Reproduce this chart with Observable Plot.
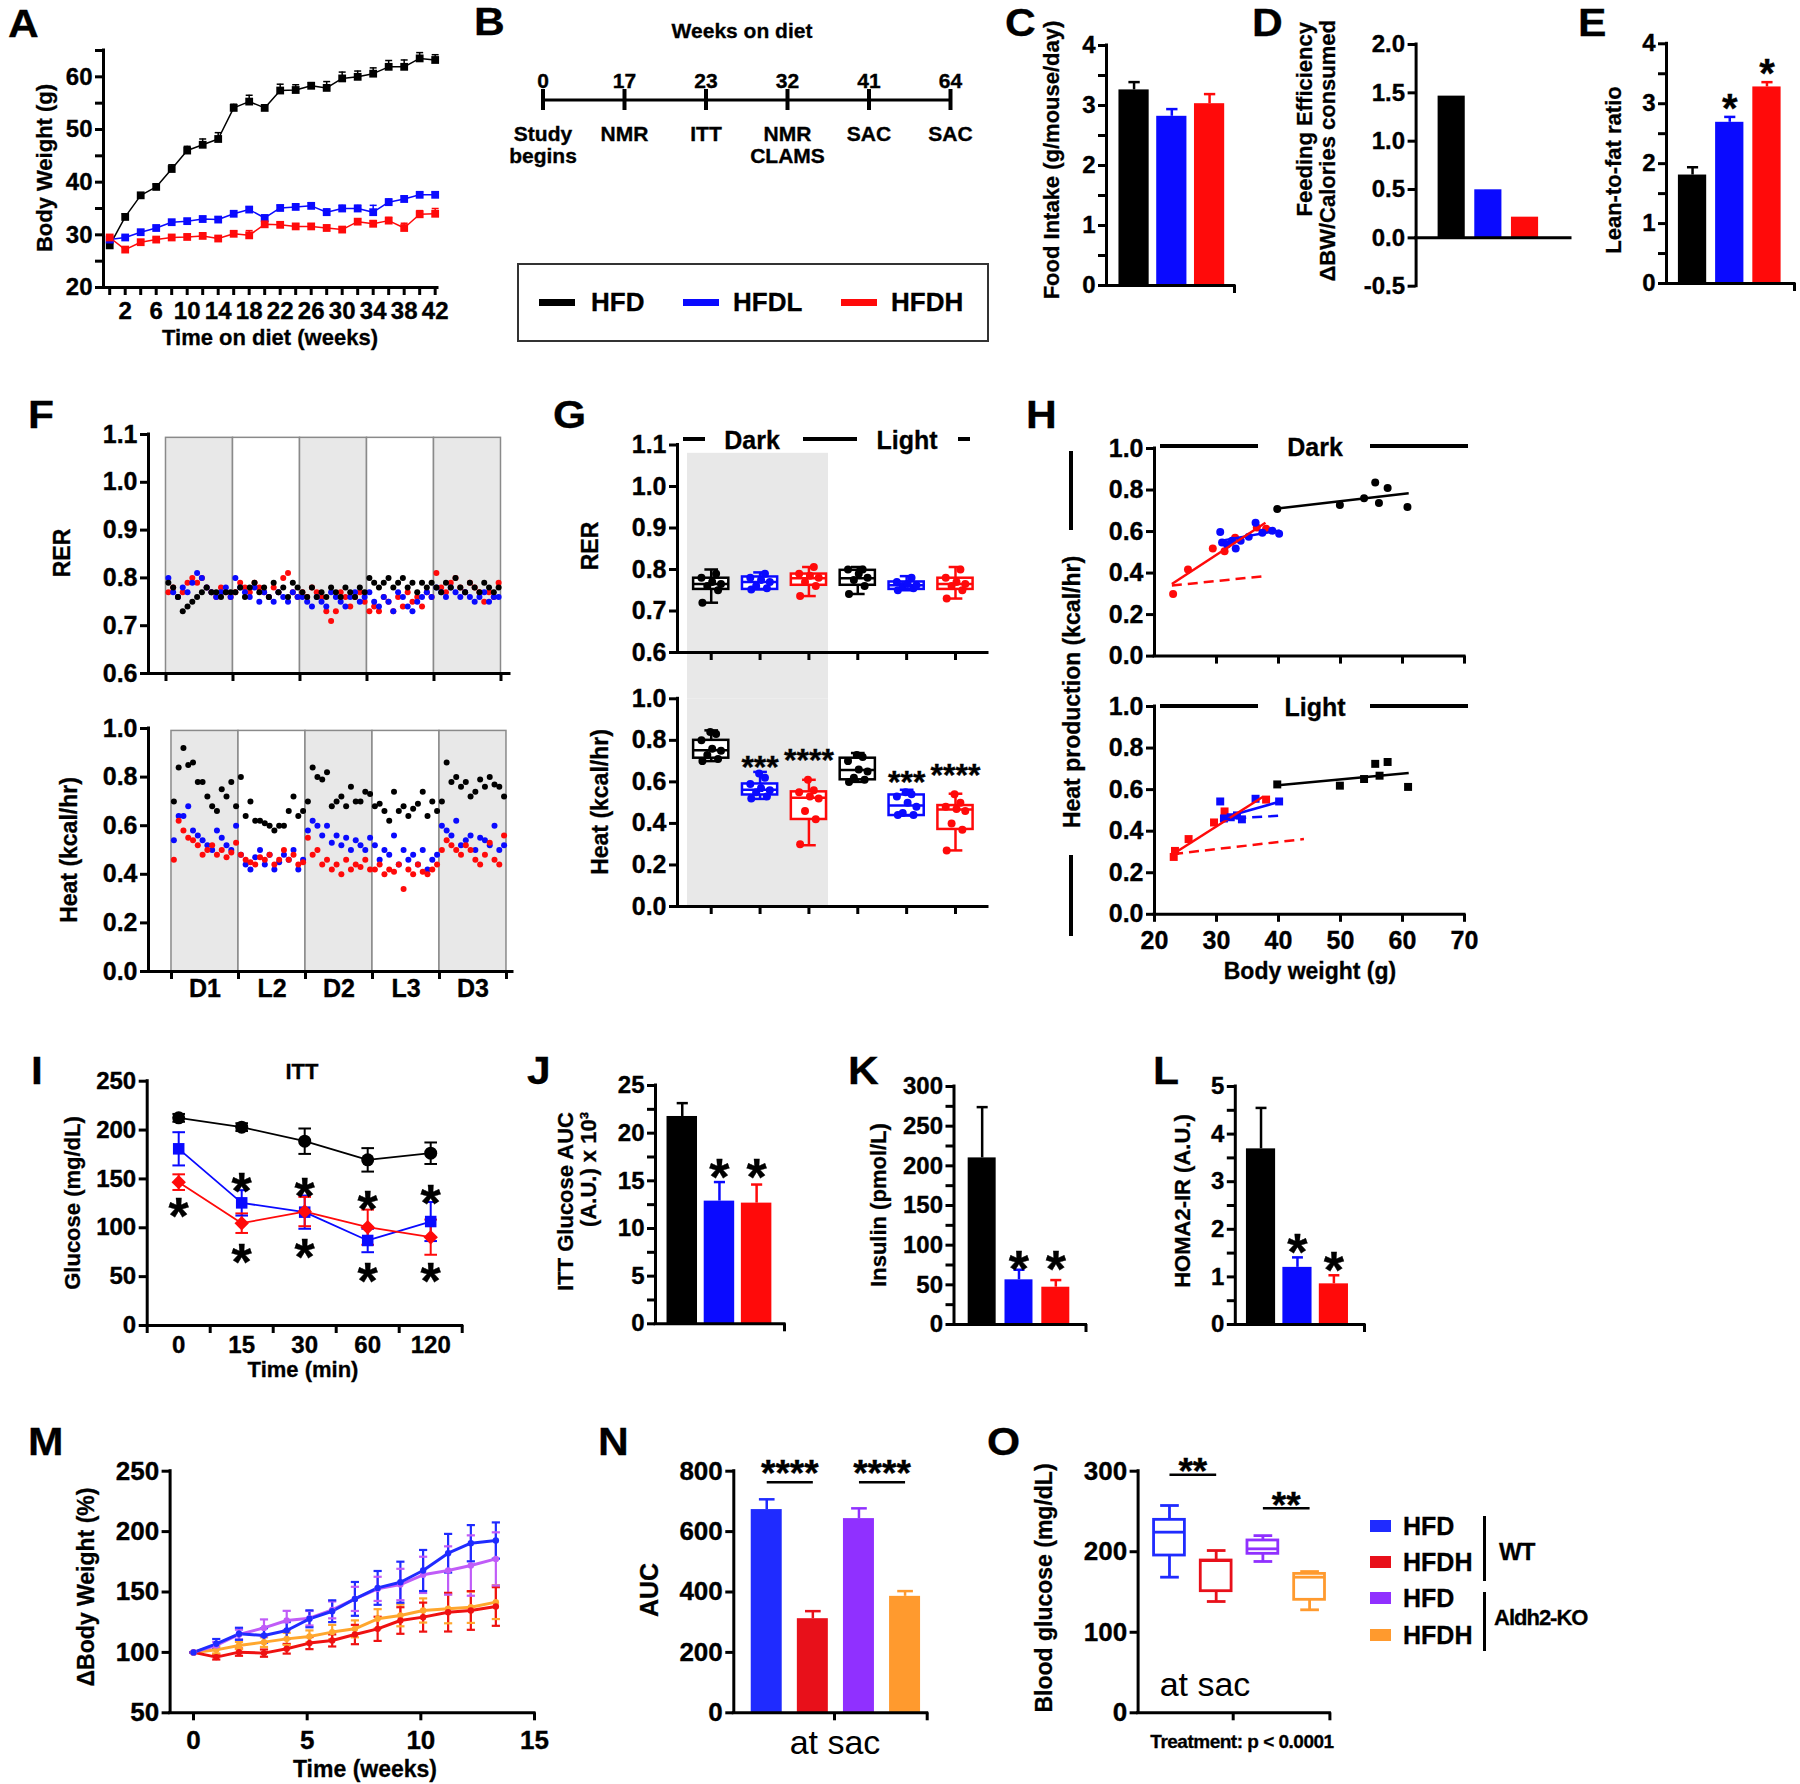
<!DOCTYPE html>
<html><head><meta charset="utf-8">
<script src="https://cdn.jsdelivr.net/npm/d3@7"></script>
<script src="https://cdn.jsdelivr.net/npm/@observablehq/plot@0.6"></script>
<style>
html,body{margin:0;padding:0;background:#fff;}
#root{position:relative;width:1800px;height:1784px;overflow:hidden;font-family:'Liberation Sans',Arial,Helvetica,sans-serif;background:#fff;}
.t{position:absolute;white-space:nowrap;line-height:1;color:#000;font-weight:bold;-webkit-text-stroke:0.3px #000;}
.t.n{-webkit-text-stroke:0;}
svg text{stroke:currentColor;stroke-width:0.35px;}
</style></head><body><div id="root"></div><script>
// ================= DATA =================
// A: body weight
const weeksA = [0,2,4,6,8,10,12,14,16,18,20,22,24,26,28,30,32,34,36,38,40,42];
const bwHFD = [28.0,33.4,37.5,39.1,42.5,46.0,47.1,48.2,54.1,55.3,54.1,57.4,57.5,58.3,57.9,59.7,60.0,60.6,61.9,61.9,63.5,63.2];
const bwHFDErr = [0.3,0.6,0.5,0.5,0.8,0.8,1.1,1.2,0.7,1.2,0.6,1.2,1.0,0.6,1.2,1.2,1.1,1.1,1.2,1.3,1.1,1.0];
const bwHFDL = [29.1,29.5,30.5,31.3,32.4,32.6,33.0,32.9,34.0,34.8,33.2,35.1,35.3,35.5,34.3,35.0,35.0,34.3,36.2,36.8,37.6,37.6];
const bwHFDLErr = [0.3,0.3,0.4,0.4,0.4,0.4,0.5,0.5,0.5,0.5,0.5,0.5,0.5,0.6,0.6,0.6,0.6,1.3,0.6,0.6,0.5,0.5];
const bwHFDH = [29.5,27.2,28.6,29.1,29.5,29.6,29.8,29.3,30.2,29.9,32.0,31.9,31.6,31.6,31.3,31.0,32.5,32.1,32.7,31.3,33.9,34.0];
const bwHFDHErr = [0.3,0.4,0.4,0.4,0.4,0.4,0.4,0.4,0.5,0.9,0.5,0.5,0.5,0.5,0.5,0.5,0.5,0.6,0.6,0.9,0.7,1.0];
// B: timeline
const timelineWeeks = ["0","17","23","32","41","64"];
const timelineEvents = ["Study\nbegins","NMR","ITT","NMR\nCLAMS","SAC","SAC"];
// C, D, E
const dietGroups = ["HFD","HFDL","HFDH"];
const foodIntake = [3.26,2.82,3.03];
const foodIntakeErr = [0.13,0.12,0.16];
const feedingEff = [1.466,0.497,0.214];
const leanFat = [1.81,2.69,3.28];
const leanFatErr = [0.13,0.09,0.08];
const leanFatStarX = [1,2];
const leanFatStarY = [3.08,3.67];
// F: CLAMS time course (14 readings per phase)
const clamsPhases = ["D1","L2","D2","L3","D3"];
const rerHFD = [0.79,0.78,0.76,0.73,0.74,0.75,0.76,0.77,0.78,0.77,0.77,0.76,0.77,0.77,
0.77,0.78,0.76,0.78,0.79,0.77,0.78,0.76,0.79,0.77,0.78,0.76,0.79,0.78,
0.77,0.76,0.78,0.76,0.77,0.76,0.78,0.77,0.76,0.78,0.77,0.76,0.78,0.77,
0.80,0.79,0.78,0.79,0.80,0.78,0.79,0.80,0.78,0.79,0.77,0.79,0.78,0.79,
0.78,0.77,0.79,0.78,0.80,0.78,0.77,0.79,0.78,0.77,0.79,0.78,0.77,0.78];
const rerHFDL = [0.80,0.77,0.76,0.78,0.77,0.79,0.81,0.80,0.78,0.77,0.76,0.77,0.78,0.76,
0.80,0.78,0.77,0.76,0.78,0.75,0.77,0.76,0.75,0.77,0.76,0.75,0.77,0.76,
0.76,0.75,0.74,0.76,0.75,0.74,0.77,0.76,0.75,0.74,0.76,0.77,0.75,0.76,
0.77,0.75,0.74,0.76,0.75,0.73,0.77,0.76,0.74,0.73,0.75,0.76,0.77,0.76,
0.78,0.77,0.76,0.78,0.77,0.76,0.77,0.76,0.75,0.76,0.77,0.75,0.76,0.76];
const rerHFDH = [0.77,0.78,0.76,0.77,0.79,0.80,0.79,0.80,0.78,0.77,0.76,0.78,0.77,0.76,
0.77,0.79,0.78,0.77,0.79,0.78,0.77,0.76,0.78,0.77,0.80,0.81,0.77,0.76,
0.77,0.76,0.78,0.77,0.76,0.73,0.71,0.73,0.77,0.76,0.74,0.76,0.77,0.75,
0.73,0.74,0.73,0.76,0.75,0.73,0.76,0.74,0.77,0.75,0.76,0.74,0.77,0.76,
0.81,0.78,0.77,0.79,0.80,0.78,0.77,0.79,0.78,0.77,0.75,0.77,0.76,0.79];
const heatHFD = [0.70,0.84,0.92,0.85,0.86,0.78,0.78,0.72,0.68,0.66,0.75,0.72,0.78,0.68,
0.80,0.64,0.70,0.62,0.62,0.61,0.60,0.58,0.60,0.60,0.66,0.72,0.64,0.66,
0.70,0.84,0.80,0.79,0.82,0.68,0.70,0.72,0.68,0.76,0.70,0.70,0.74,0.73,
0.68,0.69,0.66,0.62,0.74,0.66,0.68,0.64,0.67,0.69,0.74,0.64,0.70,0.66,
0.70,0.86,0.78,0.80,0.76,0.78,0.72,0.74,0.79,0.76,0.80,0.77,0.76,0.72];
const heatHFDL = [0.54,0.64,0.64,0.68,0.58,0.56,0.54,0.52,0.50,0.58,0.55,0.52,0.50,0.60,
0.48,0.44,0.42,0.47,0.50,0.44,0.48,0.42,0.45,0.48,0.46,0.50,0.42,0.46,
0.58,0.62,0.60,0.56,0.60,0.53,0.56,0.52,0.55,0.50,0.54,0.52,0.50,0.55,
0.52,0.46,0.50,0.48,0.56,0.44,0.50,0.46,0.48,0.44,0.50,0.42,0.46,0.48,
0.60,0.58,0.56,0.62,0.52,0.54,0.56,0.50,0.55,0.54,0.52,0.60,0.50,0.52];
const heatHFDH = [0.46,0.62,0.58,0.55,0.54,0.52,0.48,0.50,0.52,0.48,0.50,0.47,0.49,0.53,
0.48,0.46,0.45,0.44,0.47,0.46,0.48,0.44,0.46,0.50,0.46,0.48,0.44,0.45,
0.55,0.48,0.50,0.44,0.46,0.42,0.44,0.40,0.46,0.42,0.44,0.43,0.46,0.42,
0.42,0.44,0.40,0.42,0.41,0.44,0.34,0.42,0.40,0.44,0.41,0.40,0.42,0.44,
0.50,0.54,0.52,0.50,0.48,0.52,0.50,0.46,0.44,0.48,0.53,0.46,0.44,0.56];
// G: box plots (Dark HFD, HFDL, HFDH, Light HFD, HFDL, HFDH): [min,q1,median,q3,max]
const gGroups = ["HFD","HFDL","HFDH","HFD","HFDL","HFDH"];
const gRerStats = [[0.72,0.752,0.765,0.779,0.80],[0.752,0.752,0.77,0.782,0.793],[0.736,0.762,0.779,0.789,0.806],
  [0.741,0.762,0.779,0.798,0.806],[0.75,0.752,0.762,0.77,0.784],[0.73,0.752,0.765,0.779,0.806]];
const gHeatStats = [[0.70,0.714,0.752,0.80,0.848],[0.518,0.537,0.562,0.59,0.648],[0.295,0.419,0.524,0.552,0.61],
  [0.60,0.61,0.657,0.714,0.739],[0.438,0.438,0.486,0.537,0.562],[0.27,0.371,0.467,0.486,0.543]];
const gRerPoints = [[0.72,0.75,0.76,0.765,0.77,0.78,0.79],[0.752,0.755,0.76,0.77,0.775,0.78,0.79],
  [0.736,0.76,0.77,0.78,0.785,0.79,0.806],[0.741,0.76,0.775,0.78,0.79,0.80,0.80],
  [0.75,0.755,0.76,0.762,0.765,0.77,0.78],[0.73,0.75,0.76,0.765,0.77,0.78,0.80]];
const gHeatPoints = [[0.70,0.71,0.73,0.75,0.76,0.80,0.83,0.84],[0.52,0.53,0.55,0.56,0.57,0.59,0.62,0.64],
  [0.30,0.42,0.46,0.52,0.53,0.55,0.56,0.61],[0.60,0.61,0.62,0.65,0.66,0.70,0.72,0.73],
  [0.44,0.44,0.45,0.48,0.50,0.53,0.54,0.55],[0.27,0.37,0.40,0.46,0.47,0.48,0.50,0.54]];
const gStarX = [1,2,4,5];
const gStarY = [0.705,0.743,0.633,0.671];
const gStarText = ["***","****","***","****"];
// H: heat vs body weight
const hDarkHFDx = [39.8,49.9,53.8,55.6,56.2,57.6,60.8];
const hDarkHFDy = [0.709,0.728,0.76,0.836,0.737,0.81,0.718];
const hDarkHFDLx = [30.6,30.9,31.7,32.5,33.1,33.9,35.2,36.3,37.4,39.0,40.1];
const hDarkHFDLy = [0.598,0.547,0.537,0.556,0.518,0.556,0.575,0.642,0.594,0.604,0.589];
const hDarkHFDHx = [23.0,25.4,29.4,31.3,33.0,36.5,38.0];
const hDarkHFDHy = [0.299,0.417,0.518,0.505,0.57,0.62,0.613];
const hLightHFDx = [39.8,49.9,53.8,55.6,56.3,57.6,60.9];
const hLightHFDy = [0.625,0.619,0.651,0.724,0.667,0.733,0.613];
const hLightHFDLx = [30.6,31.2,32.3,33.3,34.1,36.3,40.1];
const hLightHFDLy = [0.543,0.461,0.467,0.476,0.457,0.556,0.543];
const hLightHFDHx = [23.1,23.3,25.5,29.6,31.3,38.0];
const hLightHFDHy = [0.276,0.305,0.362,0.442,0.495,0.552];
// regression fits [group, x start, y start, x end, y end]
const hDarkFits = [["HFD",39.5,0.71,61,0.785],["HFDL",30.6,0.555,40.2,0.605],["HFDH",22.8,0.347,37.9,0.642]];
const hDarkFitsDashed = [["HFDH",22.8,0.34,37.6,0.385]];
const hLightFits = [["HFD",39.5,0.62,61,0.68],["HFDL",30.6,0.461,40.3,0.543],["HFDH",23,0.29,37.5,0.566]];
const hLightFitsDashed = [["HFDL",30.6,0.457,40.9,0.476],["HFDH",23,0.29,44.1,0.362]];
// I: ITT
const ittTimes = ["0","15","30","60","120"];
const ittHFD = [212.5,203,188.6,169.5,176.3];
const ittHFDErr = [4,4,13,12,11];
const ittHFDL = [180.8,125.5,116,87,106.4];
const ittHFDLErr = [17,13,17,12,20];
const ittHFDH = [146.7,104.7,116.6,100.6,90.4];
const ittHFDHErr = [8,10,15,18,18];
const ittStarAboveX = [1,2,3,4];
const ittStarAboveY = [150,145,131,138];
const ittStarBelowX = [0,1,2,3,4];
const ittStarBelowY = [124.5,76.7,81.9,58,58];
// J, K, L
const ittAUC = [21.75,12.87,12.66];
const ittAUCErr = [1.4,2.0,1.95];
const ittAUCStarY = [16.6,16.6];
const insulin = [210,56.3,47];
const insulinErr = [64,12.7,9];
const insulinStarY = [84.8,84.8];
const homa = [3.69,1.2,0.854];
const homaErr = [0.86,0.21,0.18];
const homaStarY = [1.765,1.387];
// M, N, O
const koGroups = ["WT HFD","WT HFDH","KO HFD","KO HFDH"];
const mWeeks = [0,1,2,3.1,4.1,5.1,6.1,7.1,8.1,9.1,10.1,11.2,12.2,13.3];
const mWtHFD = [100,107.1,115.4,114,118.1,127.8,134.1,144.3,153.4,158.1,167.8,182.1,190.4,192.6];
const mWtHFDErr = [0,4,5,6,7,7,9,14,14,17,17,16,15,15];
const mWtHFDH = [100,96.1,100.2,99.4,103,107.7,109.9,114.8,119.5,126.4,129.2,133.3,134.7,138];
const mWtHFDHErr = [0,2,3,3,4,5,5,8,10,11,12,16,16,16];
const mKoHFD = [100,105.7,114.8,120.3,126.4,128.3,135.2,144.3,152.6,156.2,164.2,167.8,171.9,177.4];
const mKoHFDErr = [0,3,4,7,8,6,7,10,10,13,15,20,25,22];
const mKoHFDH = [100,102.1,105.7,108.5,111.2,113.2,116.8,119.5,127.8,130.6,134.7,136.1,137.4,141.6];
const mKoHFDHErr = [0,3,3,4,5,5,6,7,8,9,10,12,13,14];
const nAUC = [672.9,311.6,643,385.6];
const nAUCErr = [34,25,34,17.4];
const nSigPairs = [[0,1],[2,3]];
const nSigY = [763.6,763.6];
const oStats = [[168.4,195.3,224.3,239.6,257.4],[138.2,151,189,189.1,201.5],[187.9,197.4,203.6,214,220],[127.9,140.3,168.4,172.5,175.4]];
const oSigPairs = [[0,1],[2,3]];
const oSigY = [295.5,254];

// ================= STYLE / HELPERS =================
const W = 1800, H = 1784;
const FONT = "'Liberation Sans', Arial, Helvetica, sans-serif";
const root = document.getElementById("root");
const C3 = {HFD:"#000000", HFDL:"#0a0aff", HFDH:"#ff0a0a"};
const C4 = {"WT HFD":"#1f2bff","WT HFDH":"#e8101a","KO HFD":"#9030ff","KO HFDH":"#ff9a2e"};
const C4M = {"WT HFD":"#1f2bff","WT HFDH":"#ee1111","KO HFD":"#c05cf8","KO HFDH":"#ffa72e"};

function plotAt(box, x, y, marks) {
  const [x0, x1, yT, yB] = box;
  const svg = Plot.plot({
    width: W, height: H,
    marginLeft: x0, marginRight: W - x1, marginTop: yT, marginBottom: H - yB,
    x: {...x, axis: null}, y: {...y, axis: null}, color: {type: "identity"},
    style: {background: "transparent", fontFamily: FONT, fontSize: "22px", fontWeight: "bold", color: "#000", overflow: "visible"},
    marks
  });
  svg.style.position = "absolute"; svg.style.left = "0px"; svg.style.top = "0px";
  root.appendChild(svg);
  return svg;
}
const yAx = (ticks, fmt = d => String(d), o = {}) => Plot.axisY({ticks, tickFormat: fmt, tickSize: 8, tickPadding: 3, strokeWidth: 3, label: null, fontSize: 24, ...o});
const yMinor = (ticks) => Plot.axisY({ticks, tickFormat: () => "", tickSize: 8, strokeWidth: 3, label: null});
const xAx = (ticks, fmt = d => String(d), o = {}) => Plot.axisX({ticks, tickFormat: fmt, tickSize: 8, tickPadding: 7, strokeWidth: 3, label: null, fontSize: 24, ...o});
const xMinor = (ticks) => Plot.axisX({ticks, tickFormat: () => "", tickSize: 8, strokeWidth: 3, label: null});
const yLine = v => Plot.ruleX([v], {strokeWidth: 3, strokeLinecap: "square"});
const xLine = v => Plot.ruleY([v], {strokeWidth: 3, strokeLinecap: "square"});
const f1 = d => d.toFixed(1);

function barMarks(vals, errs, colors, hw, cap = 0.15) {
  const data = vals.map((v, i) => ({i, v, e: errs ? errs[i] : 0, c: colors[i]}));
  const m = [];
  if (errs) {
    m.push(Plot.ruleX(data, {x: "i", y1: "v", y2: d => d.v + d.e, stroke: "c", strokeWidth: 2.5}));
    m.push(Plot.link(data, {x1: d => d.i - cap, x2: d => d.i + cap, y1: d => d.v + d.e, y2: d => d.v + d.e, stroke: "c", strokeWidth: 2.5}));
  }
  m.push(Plot.rect(data, {x1: d => d.i - hw, x2: d => d.i + hw, y1: 0, y2: "v", fill: "c"}));
  return m;
}
function starMarks(xs, ys, size, texts) {
  const data = xs.map((x, i) => ({x, y: ys[i], t: texts ? texts[i] : "*"}));
  return Plot.text(data, {x: "x", y: "y", text: "t", fontSize: size, fontWeight: "bold", dy: 0.255 * size});
}
function boxMarks(stats, colors, hw, cap, sw = 2.5) {
  const d = stats.map((s, i) => ({i, min: s[0], q1: s[1], med: s[2], q3: s[3], max: s[4], c: colors[i]}));
  return [
    Plot.ruleX(d, {x: "i", y1: "min", y2: "q1", stroke: "c", strokeWidth: sw}),
    Plot.ruleX(d, {x: "i", y1: "q3", y2: "max", stroke: "c", strokeWidth: sw}),
    Plot.link(d, {x1: e => e.i - cap, x2: e => e.i + cap, y1: "min", y2: "min", stroke: "c", strokeWidth: sw}),
    Plot.link(d, {x1: e => e.i - cap, x2: e => e.i + cap, y1: "max", y2: "max", stroke: "c", strokeWidth: sw}),
    Plot.rect(d, {x1: e => e.i - hw, x2: e => e.i + hw, y1: "q1", y2: "q3", fill: "white", stroke: "c", strokeWidth: sw}),
    Plot.link(d, {x1: e => e.i - hw, x2: e => e.i + hw, y1: "med", y2: "med", stroke: "c", strokeWidth: sw})
  ];
}
function txt(s, x, y, o = {}) {
  const d = document.createElement("div");
  d.className = "t" + (o.weight === "normal" ? " n" : "");
  d.textContent = s;
  d.style.fontSize = (o.size || 22) + "px";
  if (o.weight) d.style.fontWeight = o.weight;
  if (o.ls) d.style.letterSpacing = o.ls;
  d.style.left = x + "px"; d.style.top = y + "px";
  if (o.rot) {
    d.style.writingMode = "vertical-rl";
    d.style.transform = (o.top ? "translate(-50%,0)" : "translate(-50%,-50%)") + " rotate(180deg)";
  } else {
    const ax = o.anchor === "start" ? "0" : o.anchor === "end" ? "-100%" : "-50%";
    d.style.transform = `translate(${ax},-50%)` + (o.sx ? ` scaleX(${o.sx})` : "");
    if (o.sx) d.style.transformOrigin = "0 50%";
  }
  root.appendChild(d);
  return d;
}
function bar(x, y, w, h, color = "#000") {
  const d = document.createElement("div");
  Object.assign(d.style, {position: "absolute", left: x + "px", top: y + "px", width: w + "px", height: h + "px", background: color});
  root.appendChild(d);
}

// ================= PANEL A =================
const Adata = [
  ...weeksA.map((w, i) => ({w, v: bwHFD[i], e: bwHFDErr[i], g: "HFD"})),
  ...weeksA.map((w, i) => ({w, v: bwHFDL[i], e: bwHFDLErr[i], g: "HFDL"})),
  ...weeksA.map((w, i) => ({w, v: bwHFDH[i], e: bwHFDHErr[i], g: "HFDH"}))
];
const cg = d => C3[d.g];
plotAt([103, 437, 50, 287], {domain: [-0.8, 42.3]}, {domain: [20, 65]}, [
  Plot.ruleX(Adata, {x: "w", y1: "v", y2: d => d.v + d.e, stroke: cg, strokeWidth: 1.5}),
  Plot.link(Adata, {x1: d => d.w - 0.45, x2: d => d.w + 0.45, y1: d => d.v + d.e, y2: d => d.v + d.e, stroke: cg, strokeWidth: 1.5}),
  Plot.line(Adata, {x: "w", y: "v", z: "g", stroke: cg, strokeWidth: 1.5}),
  Plot.dot(Adata, {x: "w", y: "v", symbol: "square", r: 4.4, fill: cg}),
  yAx([20, 30, 40, 50, 60]), yMinor([25, 35, 45, 55, 65]),
  xAx([2, 6, 10, 14, 18, 22, 26, 30, 34, 38, 42], d => String(d), {tickPadding: 6}), xMinor([0, 4, 8, 12, 16, 20, 24, 28, 32, 36, 40]),
  yLine(-0.8), xLine(20)
]);
txt("Body Weight (g)", 45, 168, {rot: true});
txt("Time on diet (weeks)", 270, 338);

// ================= PANEL B =================
plotAt([542.5, 950, 89, 110], {domain: [0, 5]}, {domain: [-1, 1]}, [
  Plot.line(timelineWeeks, {x: (d, i) => i, y: () => 0, strokeWidth: 3}),
  Plot.tickX(timelineWeeks, {x: (d, i) => i, strokeWidth: 4}),
  Plot.text(timelineWeeks, {x: (d, i) => i, text: d => d, frameAnchor: "top", dy: -16, fontSize: 21}),
  Plot.text(timelineEvents, {x: (d, i) => i, text: d => d, frameAnchor: "bottom", lineAnchor: "top", dy: 15, fontSize: 21, lineHeight: 1.05})
]);
txt("Weeks on diet", 742, 30, {size: 21});
(() => {
  const box = document.createElement("div");
  Object.assign(box.style, {position: "absolute", left: "517px", top: "263px", width: "472px", height: "79px", border: "2px solid #333", boxSizing: "border-box"});
  root.appendChild(box);
  const items = [[539, 591], [683, 733], [841, 891]];
  dietGroups.forEach((g, i) => {
    bar(items[i][0], 299, 36, 7, C3[g]);
    txt(g, items[i][1], 302, {anchor: "start", size: 26});
  });
})();

// ================= PANEL C =================
const col3 = dietGroups.map(g => C3[g]);
plotAt([1106, 1234, 45, 285], {domain: [-0.73, 2.66]}, {domain: [0, 4]}, [
  ...barMarks(foodIntake, foodIntakeErr, col3, 0.4),
  yAx([0, 1, 2, 3, 4]), yMinor([0.5, 1.5, 2.5, 3.5]),
  xMinor([2.66]), yLine(-0.73), xLine(0)
]);
txt("Food Intake (g/mouse/day)", 1052, 160, {rot: true});

// ================= PANEL D =================
plotAt([1415.6, 1570, 44, 285.7], {domain: [-0.97, 3.24]}, {domain: [-0.5, 2]}, [
  ...barMarks(feedingEff, null, col3, 0.37),
  yAx([-0.5, 0, 0.5, 1, 1.5, 2], f1), yLine(-0.97), xLine(0)
]);
txt("Feeding Efficiency", 1305, 22, {rot: true, top: true});
txt("\u0394BW/Calories consumed", 1328, 20, {rot: true, top: true});

// ================= PANEL E =================
plotAt([1666, 1794, 43.3, 283], {domain: [-0.70, 2.74]}, {domain: [0, 4]}, [
  ...barMarks(leanFat, leanFatErr, col3, 0.38),
  starMarks(leanFatStarX, leanFatStarY, 40),
  yAx([0, 1, 2, 3, 4]), yMinor([0.5, 1.5, 2.5, 3.5]),
  xMinor([2.74]), yLine(-0.70), xLine(0)
]);
txt("Lean-to-fat ratio", 1614, 170, {rot: true});

// ================= PANEL F =================
const phaseRects = clamsPhases.map((p, i) => ({i, dark: p[0] === "D"}));
const fSeries = (arr, g) => arr.map((v, k) => ({t: Math.floor(k / 14) + ((k % 14) + 0.5) / 14, v, g}));
const rerData = [...fSeries(rerHFDH, "HFDH"), ...fSeries(rerHFDL, "HFDL"), ...fSeries(rerHFD, "HFD")];
const heatData = [...fSeries(heatHFD, "HFD"), ...fSeries(heatHFDL, "HFDL"), ...fSeries(heatHFDH, "HFDH")];
plotAt([148, 509, 434, 673], {domain: [-0.261, 5.127]}, {domain: [0.6, 1.1]}, [
  Plot.rect(phaseRects, {x1: "i", x2: d => d.i + 1, y1: 0.6, y2: 1.093, fill: d => d.dark ? "#e8e8e8" : "#ffffff", stroke: "#8a8a8a", strokeWidth: 1.5}),
  Plot.dot(rerData, {x: "t", y: "v", r: 3, fill: cg}),
  yAx([0.6, 0.7, 0.8, 0.9, 1.0, 1.1], f1, {fontSize: 25}),
  xMinor([0, 1, 2, 3, 4, 5]), yLine(-0.261), xLine(0.6)
]);
plotAt([148, 512, 728, 971], {domain: [-0.343, 5.09]}, {domain: [0, 1]}, [
  Plot.rect(phaseRects, {x1: "i", x2: d => d.i + 1, y1: 0, y2: 0.99, fill: d => d.dark ? "#e8e8e8" : "#ffffff", stroke: "#8a8a8a", strokeWidth: 1.5}),
  Plot.dot(heatData, {x: "t", y: "v", r: 3, fill: cg}),
  yAx([0, 0.2, 0.4, 0.6, 0.8, 1.0], f1, {fontSize: 25}),
  xMinor([0, 1, 2, 3, 4, 5]),
  Plot.axisX({ticks: [0.5, 1.5, 2.5, 3.5, 4.5], tickFormat: (d, i) => clamsPhases[i], tickSize: 0, tickPadding: 8, label: null, fontSize: 25}),
  yLine(-0.343), xLine(0)
]);
txt("RER", 62, 553, {rot: true, size: 23});
txt("Heat (kcal/hr)", 69, 850, {rot: true, size: 23});

// ================= PANEL G =================
const gCol = gGroups.map(g => C3[g]);
const gJitter = [-0.18, 0.14, -0.08, 0.2, 0.02, -0.2, 0.1, -0.02];
const gPts = pts => pts.flatMap((arr, i) => arr.map((v, k) => ({x: i + gJitter[k], v, c: gCol[i]})));
const darkPhase = [{from: 0, to: 2}];
plotAt([677, 987, 444.5, 652], {domain: [-0.69, 5.655]}, {domain: [0.6, 1.1]}, [
  Plot.rect(darkPhase, {x1: d => d.from - 0.485, x2: d => d.to + 0.4, y1: 0.4884, y2: 1.08, fill: "#e8e8e8"}),
  ...boxMarks(gRerStats, gCol, 0.36, 0.14),
  Plot.dot(gPts(gRerPoints), {x: "x", y: "v", r: 4, fill: "c"}),
  yAx([0.6, 0.7, 0.8, 0.9, 1.0, 1.1], f1, {fontSize: 25}),
  xMinor([0, 1, 2, 3, 4, 5]), yLine(-0.69), xLine(0.6)
]);
plotAt([677, 987, 698.3, 906], {domain: [-0.69, 5.655]}, {domain: [0, 1]}, [
  Plot.rect(darkPhase, {x1: d => d.from - 0.485, x2: d => d.to + 0.4, y1: 0, y2: 1.0, fill: "#e8e8e8"}),
  ...boxMarks(gHeatStats, gCol, 0.36, 0.14),
  Plot.dot(gPts(gHeatPoints), {x: "x", y: "v", r: 4, fill: "c"}),
  starMarks(gStarX, gStarY, 32, gStarText),
  yAx([0, 0.2, 0.4, 0.6, 0.8, 1.0], f1, {fontSize: 25}),
  xMinor([0, 1, 2, 3, 4, 5]), yLine(-0.69), xLine(0)
]);
txt("RER", 590, 546, {rot: true, size: 23});
txt("Heat (kcal/hr)", 600, 802, {rot: true, size: 23});
bar(683, 437, 22, 4); txt("Dark", 752, 440, {size: 25}); bar(803, 437, 54, 4); txt("Light", 907, 440, {size: 25}); bar(958, 437, 12, 4);

// ================= PANEL H =================
const hPts = (xs, ys, g) => xs.map((x, i) => ({x, y: ys[i], g}));
const hFit = arr => arr.map(r => ({g: r[0], xa: r[1], ya: r[2], xb: r[3], yb: r[4]}));
const hDarkPts = [...hPts(hDarkHFDx, hDarkHFDy, "HFD"), ...hPts(hDarkHFDHx, hDarkHFDHy, "HFDH"), ...hPts(hDarkHFDLx, hDarkHFDLy, "HFDL")];
const hLightPts = [...hPts(hLightHFDx, hLightHFDy, "HFD"), ...hPts(hLightHFDHx, hLightHFDHy, "HFDH"), ...hPts(hLightHFDLx, hLightHFDLy, "HFDL")];
const fitMarks = (solid, dashed) => [
  Plot.link(hFit(solid), {x1: "xa", y1: "ya", x2: "xb", y2: "yb", stroke: cg, strokeWidth: 2.5}),
  Plot.link(hFit(dashed), {x1: "xa", y1: "ya", x2: "xb", y2: "yb", stroke: cg, strokeWidth: 2.5, strokeDasharray: "10,6"})
];
plotAt([1154, 1464, 448, 655.6], {domain: [20, 70]}, {domain: [0, 1]}, [
  Plot.dot(hDarkPts, {x: "x", y: "y", r: 4, fill: cg}),
  ...fitMarks(hDarkFits, hDarkFitsDashed),
  yAx([0, 0.2, 0.4, 0.6, 0.8, 1.0], f1, {fontSize: 25}),
  xMinor([30, 40, 50, 60, 70]), yLine(20), xLine(0)
]);
plotAt([1154, 1464, 706, 913.8], {domain: [20, 70]}, {domain: [0, 1]}, [
  Plot.dot(hLightPts, {x: "x", y: "y", r: 4.5, symbol: "square", fill: cg}),
  ...fitMarks(hLightFits, hLightFitsDashed),
  yAx([0, 0.2, 0.4, 0.6, 0.8, 1.0], f1, {fontSize: 25}),
  xAx([20, 30, 40, 50, 60, 70], d => String(d), {tickPadding: 9, fontSize: 25}), yLine(20), xLine(0)
]);
bar(1160, 444, 98, 4); txt("Dark", 1315, 447, {size: 25}); bar(1370, 444, 98, 4);
bar(1160, 704, 98, 4); txt("Light", 1315, 707, {size: 25}); bar(1370, 704, 98, 4);
txt("Heat production (kcal/hr)", 1072, 692, {rot: true, size: 23});
bar(1068.5, 451, 4, 79); bar(1068.5, 855, 4, 81);
txt("Body weight (g)", 1310, 971, {size: 23});

// ================= PANEL I =================
const Idata = [
  ...ittTimes.map((t, i) => ({i, v: ittHFD[i], e: ittHFDErr[i], g: "HFD"})),
  ...ittTimes.map((t, i) => ({i, v: ittHFDL[i], e: ittHFDLErr[i], g: "HFDL"})),
  ...ittTimes.map((t, i) => ({i, v: ittHFDH[i], e: ittHFDHErr[i], g: "HFDH"}))
];
const sym = {HFD: "circle", HFDL: "square", HFDH: "diamond2"};
plotAt([146.7, 461.7, 1080.7, 1325], {domain: [-0.5, 4.5]}, {domain: [0, 250]}, [
  Plot.ruleX(Idata, {x: "i", y1: d => d.v - d.e, y2: d => d.v + d.e, stroke: cg, strokeWidth: 2}),
  Plot.link(Idata, {x1: d => d.i - 0.1, x2: d => d.i + 0.1, y1: d => d.v + d.e, y2: d => d.v + d.e, stroke: cg, strokeWidth: 2}),
  Plot.link(Idata, {x1: d => d.i - 0.1, x2: d => d.i + 0.1, y1: d => d.v - d.e, y2: d => d.v - d.e, stroke: cg, strokeWidth: 2}),
  Plot.line(Idata, {x: "i", y: "v", z: "g", stroke: cg, strokeWidth: 1.8}),
  Plot.dot(Idata, {x: "i", y: "v", r: 6.5, symbol: d => sym[d.g], fill: cg}),
  starMarks(ittStarAboveX, ittStarAboveY, 52),
  starMarks(ittStarBelowX, ittStarBelowY, 52),
  yAx([0, 50, 100, 150, 200, 250]),
  xMinor([-0.5, 0.5, 1.5, 2.5, 3.5, 4.5]),
  Plot.axisX({ticks: [0, 1, 2, 3, 4], tickFormat: (d, i) => ittTimes[i], tickSize: 0, tickPadding: 10, label: null, fontSize: 24}),
  yLine(-0.5), xLine(0)
]);
txt("ITT", 302, 1072);
txt("Time (min)", 303, 1370);
txt("Glucose (mg/dL)", 73, 1203, {rot: true});

// ================= PANELS J, K, L =================
plotAt([655, 784, 1085, 1323.3], {domain: [-0.72, 2.75]}, {domain: [0, 25]}, [
  ...barMarks(ittAUC, ittAUCErr, col3, 0.41),
  starMarks([1, 2], ittAUCStarY, 52),
  yAx([0, 5, 10, 15, 20, 25]), yMinor([2.5, 7.5, 12.5, 17.5, 22.5]),
  xMinor([2.75]), yLine(-0.72), xLine(0)
]);
txt("ITT Glucose AUC", 566, 1112, {rot: true, top: true});
txt("(A.U.) x 10\u00b3", 589, 1112, {rot: true, top: true});
plotAt([953.5, 1085.5, 1086, 1324], {domain: [-0.765, 2.82]}, {domain: [0, 300]}, [
  ...barMarks(insulin, insulinErr, col3, 0.38),
  starMarks([1, 2], insulinStarY, 52),
  yAx([0, 50, 100, 150, 200, 250, 300]), yMinor([25, 75, 125, 175, 225, 275]),
  xMinor([2.82]), yLine(-0.765), xLine(0)
]);
txt("Insulin (pmol/L)", 879, 1205, {rot: true});
plotAt([1234.8, 1364, 1086, 1324], {domain: [-0.706, 2.84]}, {domain: [0, 5]}, [
  ...barMarks(homa, homaErr, col3, 0.4),
  starMarks([1, 2], homaStarY, 52),
  yAx([0, 1, 2, 3, 4, 5]), yMinor([0.5, 1.5, 2.5, 3.5, 4.5]),
  xMinor([2.84]), yLine(-0.706), xLine(0)
]);
txt("HOMA2-IR (A.U.)", 1183, 1201, {rot: true});

// ================= PANEL M =================
const Mdata = [
  ...mWeeks.map((w, i) => ({w, v: mKoHFDH[i], e: mKoHFDHErr[i], g: "KO HFDH"})),
  ...mWeeks.map((w, i) => ({w, v: mWtHFDH[i], e: mWtHFDHErr[i], g: "WT HFDH"})),
  ...mWeeks.map((w, i) => ({w, v: mKoHFD[i], e: mKoHFDErr[i], g: "KO HFD"})),
  ...mWeeks.map((w, i) => ({w, v: mWtHFD[i], e: mWtHFDErr[i], g: "WT HFD"}))
];
const cm = d => C4M[d.g];
plotAt([169.6, 534, 1470.7, 1712.3], {domain: [-1.03, 15]}, {domain: [50, 250]}, [
  Plot.ruleX(Mdata, {x: "w", y1: d => d.v - d.e, y2: d => d.v + d.e, stroke: cm, strokeWidth: 2.2}),
  Plot.link(Mdata, {x1: d => d.w - 0.18, x2: d => d.w + 0.18, y1: d => d.v + d.e, y2: d => d.v + d.e, stroke: cm, strokeWidth: 2.2}),
  Plot.link(Mdata, {x1: d => d.w - 0.18, x2: d => d.w + 0.18, y1: d => d.v - d.e, y2: d => d.v - d.e, stroke: cm, strokeWidth: 2.2}),
  Plot.line(Mdata, {x: "w", y: "v", z: "g", stroke: cm, strokeWidth: 3}),
  Plot.dot(Mdata, {x: "w", y: "v", r: 3.2, fill: cm}),
  yAx([50, 100, 150, 200, 250], d => String(d), {fontSize: 26}),
  xAx([0, 5, 10, 15], d => String(d), {tickPadding: 10, fontSize: 26}),
  yLine(-1.03), xLine(50)
]);
txt("\u0394Body Weight (%)", 86, 1587, {rot: true, size: 23});
txt("Time (weeks)", 365, 1769, {size: 23});

// ================= PANEL N =================
const col4 = koGroups.map(g => C4[g]);
const sigData = (pairs, ys) => pairs.map((p, i) => ({a: p[0], b: p[1], y: ys[i]}));
plotAt([733.3, 926.7, 1470.7, 1712.3], {domain: [-0.714, 3.48]}, {domain: [0, 800]}, [
  ...barMarks(nAUC, nAUCErr, col4, 0.336, 0.17),
  Plot.link(sigData(nSigPairs, nSigY), {x1: "a", x2: "b", y1: "y", y2: "y", strokeWidth: 2.5}),
  Plot.text(sigData(nSigPairs, nSigY), {x: d => (d.a + d.b) / 2, y: "y", text: () => "****", fontSize: 37, dy: -17 + 0.255 * 37}),
  yAx([0, 200, 400, 600, 800], d => String(d), {fontSize: 26}),
  xMinor([1.47, 3.48]), yLine(-0.714), xLine(0)
]);
txt("AUC", 649, 1590, {rot: true, size: 25});
txt("at sac", 835, 1742, {size: 34, weight: "normal"});

// ================= PANEL O =================
plotAt([1137.6, 1329.4, 1470.7, 1712.3], {domain: [-0.672, 3.435]}, {domain: [0, 300]}, [
  ...boxMarks(oStats, col4, 0.33, 0.2, 2.8),
  Plot.link(sigData(oSigPairs, oSigY), {x1: "a", x2: "b", y1: "y", y2: "y", strokeWidth: 2.5}),
  Plot.text(sigData(oSigPairs, oSigY), {x: d => (d.a + d.b) / 2, y: "y", text: () => "**", fontSize: 37, dy: -12 + 0.255 * 37}),
  yAx([0, 100, 200, 300], d => String(d), {fontSize: 26}),
  xMinor([1.364, 3.435]), yLine(-0.672), xLine(0)
]);
txt("Blood glucose  (mg/dL)", 1044, 1588, {rot: true, size: 23});
txt("at sac", 1205, 1684, {size: 34, weight: "normal"});
txt("Treatment: p < 0.0001", 1242, 1741, {size: 19, ls: "-0.5px"});
const legRows = [1525.7, 1562.3, 1598.3, 1635];
const legNames = ["HFD", "HFDH", "HFD", "HFDH"];
koGroups.forEach((g, i) => {
  bar(1370, legRows[i] - 6, 21, 12, C4[g]);
  txt(legNames[i], 1403, legRows[i], {anchor: "start", size: 25});
});
bar(1483, 1516, 3, 65); bar(1483, 1592, 3, 59);
txt("WT", 1499, 1552, {anchor: "start", size: 24, ls: "-1px"});
txt("Aldh2-KO", 1494, 1618, {anchor: "start", size: 22, ls: "-1px"});

// ================= PANEL LETTERS =================
[["A", 8, 24], ["B", 474, 22], ["C", 1005, 23], ["D", 1252, 23], ["E", 1578, 23],
 ["F", 28, 415], ["G", 553, 415], ["H", 1026, 415],
 ["I", 31, 1071], ["J", 527, 1071], ["K", 848, 1071], ["L", 1153, 1071],
 ["M", 28, 1442], ["N", 598, 1442], ["O", 987, 1442]].forEach(([s, x, y]) => txt(s, x, y, {anchor: "start", size: 38, sx: 1.12}));
</script></body></html>
